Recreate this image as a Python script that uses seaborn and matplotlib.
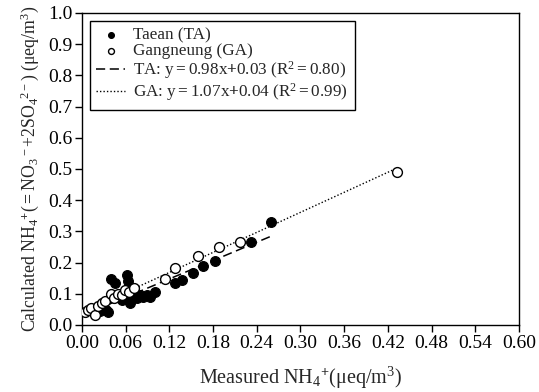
import numpy as np
import pandas as pd
import matplotlib
matplotlib.use('Agg')
import matplotlib.pyplot as plt
import seaborn as sns

# Measured vs calculated NH4+ (ueq/m3)
ta_x = [0.020, 0.025, 0.029, 0.033, 0.036, 0.040, 0.045, 0.048, 0.055, 0.060,
        0.062, 0.063, 0.064, 0.066, 0.070, 0.075, 0.080, 0.084, 0.089, 0.094,
        0.100, 0.128, 0.137, 0.152, 0.166, 0.182, 0.232, 0.260]
ta_y = [0.050, 0.045, 0.054, 0.048, 0.043, 0.147, 0.134, 0.090, 0.081, 0.085,
        0.159, 0.140, 0.081, 0.070, 0.092, 0.086, 0.095, 0.091, 0.097, 0.091,
        0.107, 0.134, 0.145, 0.165, 0.188, 0.204, 0.266, 0.330]

ga_x = [0.004, 0.008, 0.012, 0.018, 0.022, 0.028, 0.032, 0.040, 0.044, 0.049,
        0.055, 0.059, 0.065, 0.071, 0.114, 0.128, 0.160, 0.188, 0.217, 0.432]
ga_y = [0.043, 0.048, 0.055, 0.032, 0.061, 0.070, 0.078, 0.100, 0.086, 0.100,
        0.095, 0.113, 0.105, 0.120, 0.148, 0.183, 0.222, 0.250, 0.265, 0.489]

# regression lines as reported in the legend
ta_fit = (0.98, 0.03)
ga_fit = (1.07, 0.04)

x_ticks = np.round(np.arange(0, 0.61, 0.06), 2)
y_ticks = np.round(np.arange(0, 1.01, 0.1), 1)

sns.set_style("ticks")
plt.rcParams['font.family'] = ['Liberation Serif', 'DejaVu Serif']
plt.rcParams['mathtext.fontset'] = 'custom'
plt.rcParams['mathtext.rm'] = 'Liberation Serif'
plt.rcParams['mathtext.it'] = 'Liberation Serif:italic'
plt.rcParams['mathtext.bf'] = 'Liberation Serif:bold'

df = pd.concat([
    pd.DataFrame({'measured': ta_x, 'calculated': ta_y, 'site': 'Taean (TA)'}),
    pd.DataFrame({'measured': ga_x, 'calculated': ga_y, 'site': 'Gangneung (GA)'}),
])

fig = plt.figure(figsize=(5.39, 3.92), dpi=100)
ax = fig.add_axes([0.152, 0.171, 0.811, 0.796])

sns.scatterplot(data=df[df['site'] == 'Taean (TA)'], x='measured', y='calculated',
                color='black', edgecolor='black', s=50, linewidth=0.8,
                label='Taean (TA)', ax=ax, zorder=3)
sns.scatterplot(data=df[df['site'] == 'Gangneung (GA)'], x='measured', y='calculated',
                facecolor='white', edgecolor='black', s=50, linewidth=1.0,
                label='Gangneung (GA)', ax=ax, zorder=4)

xt = np.array([min(ta_x), max(ta_x)])
ax.plot(xt, ta_fit[0] * xt + ta_fit[1], color='black', ls=(0, (6, 3)), lw=1.1,
        label=r'TA: y$\mathbf{=}$0.98x$\mathbf{+}$0.03 (R$^2$$\mathbf{=}$0.80)', zorder=2)
xg = np.array([min(ga_x), max(ga_x)])
ax.plot(xg, ga_fit[0] * xg + ga_fit[1], color='black', ls=(0, (1, 1.5)), lw=1.0,
        label=r'GA: y$\mathbf{=}$1.07x$\mathbf{+}$0.04 (R$^2$$\mathbf{=}$0.99)', zorder=2)

ax.set_xlim(0, 0.60)
ax.set_ylim(0, 1.0)
ax.set_xticks(x_ticks)
ax.set_xticklabels([f'{v:.2f}' for v in x_ticks])
ax.set_yticks(y_ticks)
ax.set_yticklabels([f'{v:.1f}' for v in y_ticks])
ax.tick_params(direction='out', length=5, width=1, labelsize=14, colors='black', pad=2)
for sp in ax.spines.values():
    sp.set_linewidth(1)
    sp.set_color('black')

ax.set_xlabel(r'Measured NH$_4$$^{\mathbf{+}}$(μeq/m$^3$)', fontsize=14.5, labelpad=9.5)
ax.set_ylabel(r'Calculated NH$_4$$^{\mathbf{+}}$($\mathbf{=}$NO$_3$$^-$+2SO$_4$$^{2-}$) (μeq/m$^3$)',
              fontsize=12.8, labelpad=5)

leg = ax.legend(loc='upper left', bbox_to_anchor=(0.0, 1.0), bbox_transform=ax.transAxes,
                fontsize=12.3, frameon=True, fancybox=False, edgecolor='black',
                framealpha=1, markerscale=0.6, handlelength=1.7, handletextpad=0.45,
                borderpad=0.4, labelspacing=0.0, borderaxespad=0.45)
leg.get_frame().set_linewidth(1)

fig.savefig('out.png', dpi=100)
